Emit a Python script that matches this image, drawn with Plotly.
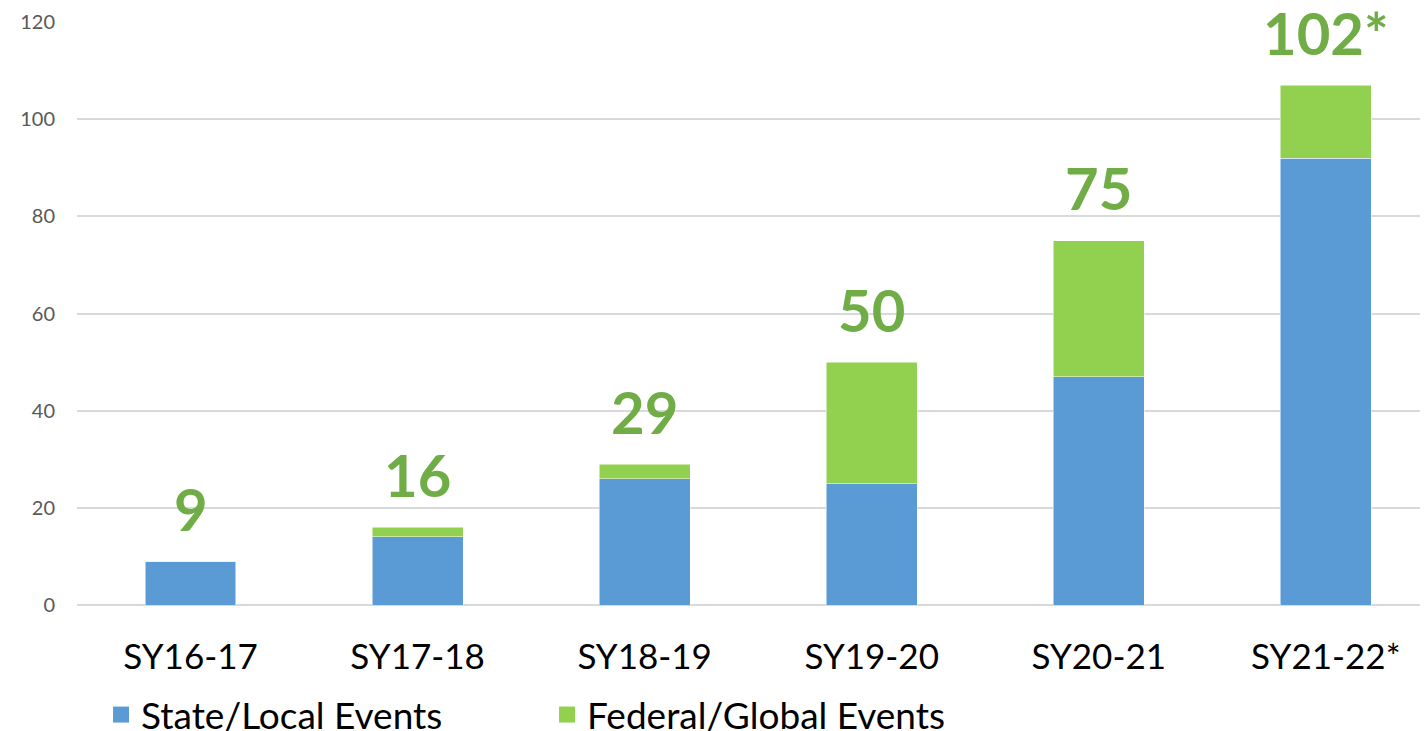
"""
Рост числа мероприятий по учебным годам (stacked bar)
"""

import plotly.graph_objects as go

years = ['SY16-17', 'SY17-18', 'SY18-19', 'SY19-20', 'SY20-21', 'SY21-22*']
state_local = [9, 14, 26, 25, 47, 92]
federal_global = [0, 2, 3, 25, 28, 15]
total_labels = ['9', '16', '29', '50', '75', '102*']
y_ticks = [0, 20, 40, 60, 80, 100, 120]

FONT = 'Lato'
BLUE = '#5B9BD5'
GREEN = '#92D050'
LABEL_GREEN = '#70AD47'

fig = go.Figure()

fig.add_trace(go.Bar(
    x=years, y=state_local, name='State/Local Events',
    marker=dict(color=BLUE, line=dict(color='white', width=0.5)),
    width=0.4, showlegend=False
))
fig.add_trace(go.Bar(
    x=years, y=federal_global, name='Federal/Global Events',
    marker=dict(color=GREEN, line=dict(color='white', width=0.5)),
    width=0.4, showlegend=False
))

# Легенда с крупными квадратами (пустые трассы)
for name, color in [('State/Local Events', BLUE), ('Federal/Global Events', GREEN)]:
    fig.add_trace(go.Scatter(
        x=[None], y=[None], mode='markers', name=name,
        marker=dict(symbol='square', size=24, color=color)
    ))

# Подписи итогов над столбцами
for yr, s, f, lbl in zip(years, state_local, federal_global, total_labels):
    fig.add_annotation(
        x=yr, y=s + f, text=f'<b>{lbl}</b>',
        showarrow=False, yanchor='middle', yshift=53,
        font=dict(family=FONT, size=58, color=LABEL_GREEN)
    )

# страница имеет отступ 8px, поэтому поля уменьшены
fig.update_layout(
    barmode='stack',
    width=1420, height=760,
    margin=dict(l=69, r=0, t=14, b=163),
    plot_bgcolor='white',
    paper_bgcolor='white',
    font=dict(family=FONT),
    showlegend=True,
    legend=dict(
        orientation='h', x=0.0178, xanchor='left', y=-0.1887, yanchor='middle',
        font=dict(family=FONT, size=37, color='black'),
        entrywidth=401, traceorder='normal'
    )
)

fig.update_xaxes(
    range=[-0.5, 5.45], automargin=False,
    showgrid=False, showline=False, ticks='',
    tickfont=dict(family=FONT, size=35, color='black'),
    ticklabelstandoff=28
)
fig.update_yaxes(
    range=[0, 120], tickvals=y_ticks, automargin=False,
    showgrid=True, gridcolor='#D9D9D9', gridwidth=1.5,
    zeroline=True, zerolinecolor='#D9D9D9', zerolinewidth=1.5,
    tickfont=dict(family=FONT, size=20, color='#595959'),
    ticklabelstandoff=21
)

fig.write_html("out.html")
